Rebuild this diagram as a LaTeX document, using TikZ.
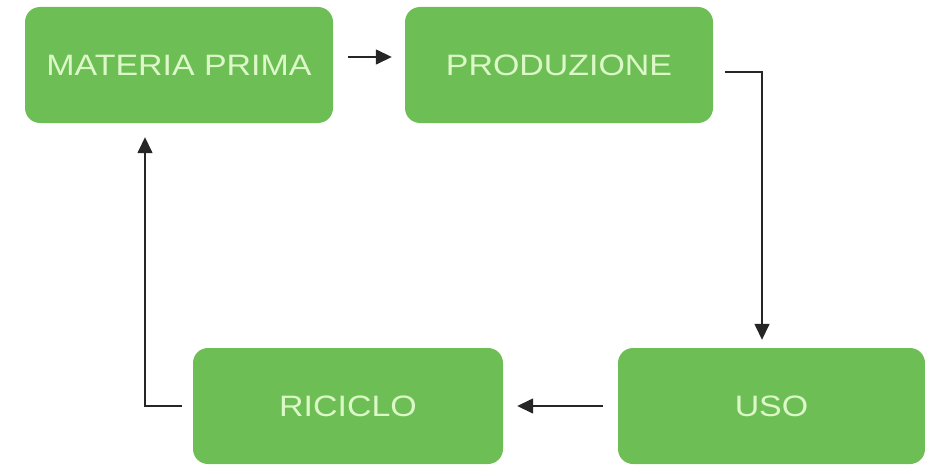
\documentclass[tikz,border=0pt]{standalone}
\usepackage{fontspec}
\setmainfont{Liberation Sans}[FakeStretch=1.15]
\usetikzlibrary{arrows.meta}
\definecolor{boxgreen}{HTML}{6DBF55}
\definecolor{boxtext}{HTML}{DDF8C8}
\definecolor{linecol}{HTML}{262626}
\begin{document}
\begin{tikzpicture}[x=1pt,y=-1pt,
  gbox/.style={rectangle, rounded corners=15pt, fill=boxgreen, draw=none,
    minimum width=308pt, minimum height=116pt, inner sep=0pt,
    text=boxtext, font=\fontsize{29.5}{32}\selectfont},
  arr/.style={draw=linecol, line width=1.5pt, -{Triangle[length=16pt,width=15pt]}}]
\useasboundingbox (0,0) rectangle (925,468);
\node[gbox] (mp) at (179,65) {MATERIA PRIMA};
\node[gbox] (pr) at (559,65) {PRODUZIONE};
\node[gbox, minimum width=307pt] (uso) at (771.5,406) {USO};
\node[gbox, minimum width=310pt] (ric) at (348,406) {RICICLO};
\draw[arr] ([xshift=15pt,yshift=8pt]mp.east) -- ([xshift=-13pt,yshift=8pt]pr.west);
\draw[arr] ([xshift=12pt,yshift=-7pt]pr.east) -| ([xshift=-9.5pt,yshift=8pt]uso.north);
\draw[arr] ([xshift=-15pt]uso.west) -- ([xshift=14pt]ric.east);
\draw[arr] ([xshift=-11pt]ric.west) -| ([xshift=-34pt,yshift=-14pt]mp.south);
\end{tikzpicture}
\end{document}
